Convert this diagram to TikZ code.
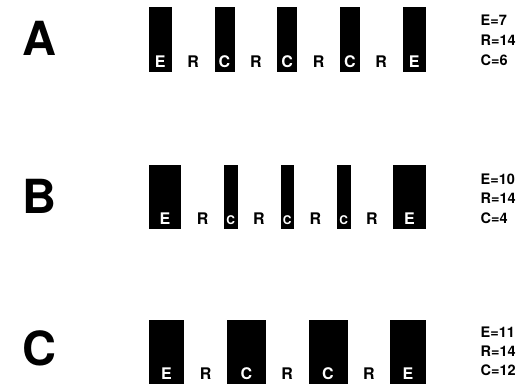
\documentclass[tikz,border=0pt]{standalone}
\usepackage{fontspec}
\setmainfont{TeX Gyre Heros}
\usetikzlibrary{calc}
\tikzset{
  bar/.style={fill=black, draw=none, inner sep=0pt, anchor=north west},
  inl/.style={text=white, font=\bfseries\fontsize{16}{18}\selectfont, inner sep=0pt, anchor=base},
  inlsmall/.style={text=white, font=\bfseries\fontsize{12}{14}\selectfont, inner sep=0pt, anchor=base},
  outl/.style={text=black, font=\bfseries\fontsize{16}{18}\selectfont, inner sep=0pt, anchor=base},
  big/.style={font=\bfseries\fontsize{47}{50}\selectfont, inner sep=0pt, anchor=base west},
  stat/.style={font=\bfseries\fontsize{14.5}{16}\selectfont, inner sep=0pt, anchor=base west},
}
\begin{document}
\begin{tikzpicture}[x=1pt,y=-1pt]
\useasboundingbox (0,0) rectangle (519,387);
% ---------- Row A ----------
\node[big] (lblA) at (22.3,55.7) {A};
\node[bar, minimum width=23.4pt, minimum height=65pt] (aE1) at (148.3,7) {};
\node[bar, minimum width=20pt, minimum height=65pt] (aC1) at (214.3,7) {};
\node[bar, minimum width=20pt, minimum height=65pt] (aC2) at (277,7) {};
\node[bar, minimum width=20pt, minimum height=65pt] (aC3) at (339.7,7) {};
\node[bar, minimum width=23.4pt, minimum height=65pt] (aE2) at (402.3,7) {};
\node[inl] (taE1) at ([yshift=5pt]aE1.south) {E};
\node[inl] (taC1) at ([yshift=5pt]aC1.south) {C};
\node[inl] (taC2) at ([yshift=5pt]aC2.south) {C};
\node[inl] (taC3) at ([yshift=5pt]aC3.south) {C};
\node[inl] (taE2) at ([yshift=5pt]aE2.south) {E};
\node[outl] (taR1) at ($(aE1.south east)!0.5!(aC1.south west)+(0,-5)$) {R};
\node[outl] (taR2) at ($(aC1.south east)!0.5!(aC2.south west)+(0,-5)$) {R};
\node[outl] (taR3) at ($(aC2.south east)!0.5!(aC3.south west)+(0,-5)$) {R};
\node[outl] (taR4) at ($(aC3.south east)!0.5!(aE2.south west)+(0,-5)$) {R};
\node[stat] (saE) at (480.5,25.5) {E=7};
\node[stat] (saR) at (480.5,45.5) {R=14};
\node[stat] (saC) at (480.5,65.5) {C=6};
% ---------- Row B ----------
\node[big] (lblB) at (22.8,213.3) {B};
\node[bar, minimum width=32.7pt, minimum height=64.3pt] (bE1) at (148.3,165) {};
\node[bar, minimum width=13.6pt, minimum height=64.3pt] (bC1) at (223.7,165) {};
\node[bar, minimum width=13.6pt, minimum height=64.3pt] (bC2) at (280.3,165) {};
\node[bar, minimum width=13.6pt, minimum height=64.3pt] (bC3) at (336.7,165) {};
\node[bar, minimum width=32.7pt, minimum height=64.3pt] (bE2) at (393,165) {};
\node[inl] (tbE1) at ([yshift=5pt]bE1.south) {E};
\node[inlsmall] (tbC1) at ([yshift=5.5pt]bC1.south) {C};
\node[inlsmall] (tbC2) at ([yshift=5.5pt]bC2.south) {C};
\node[inlsmall] (tbC3) at ([yshift=5.5pt]bC3.south) {C};
\node[inl] (tbE2) at ([yshift=5pt]bE2.south) {E};
\node[outl] (tbR1) at ($(bE1.south east)!0.5!(bC1.south west)+(0,-5)$) {R};
\node[outl] (tbR2) at ($(bC1.south east)!0.5!(bC2.south west)+(0,-5)$) {R};
\node[outl] (tbR3) at ($(bC2.south east)!0.5!(bC3.south west)+(0,-5)$) {R};
\node[outl] (tbR4) at ($(bC3.south east)!0.5!(bE2.south west)+(0,-5)$) {R};
\node[stat] (sbE) at (480.5,184.3) {E=10};
\node[stat] (sbR) at (480.5,204) {R=14};
\node[stat] (sbC) at (480.5,223.5) {C=4};
% ---------- Row C ----------
\node[big] (lblC) at (22.3,365.7) {C};
\node[bar, minimum width=35.7pt, minimum height=64.7pt] (cE1) at (148.3,319.3) {};
\node[bar, minimum width=39pt, minimum height=64.7pt] (cC1) at (226.7,319.3) {};
\node[bar, minimum width=39pt, minimum height=64.7pt] (cC2) at (308.3,319.3) {};
\node[bar, minimum width=35.7pt, minimum height=64.7pt] (cE2) at (390,319.3) {};
\node[inl] (tcE1) at ([yshift=5pt]cE1.south) {E};
\node[inl] (tcC1) at ([yshift=5pt]cC1.south) {C};
\node[inl] (tcC2) at ([yshift=5pt]cC2.south) {C};
\node[inl] (tcE2) at ([yshift=5pt]cE2.south) {E};
\node[outl] (tcR1) at ($(cE1.south east)!0.5!(cC1.south west)+(0,-5)$) {R};
\node[outl] (tcR2) at ($(cC1.south east)!0.5!(cC2.south west)+(0,-5)$) {R};
\node[outl] (tcR3) at ($(cC2.south east)!0.5!(cE2.south west)+(0,-5)$) {R};
\node[stat] (scE) at (480.5,337.3) {E=11};
\node[stat] (scR) at (480.5,356.7) {R=14};
\node[stat] (scC) at (480.5,375.5) {C=12};
\end{tikzpicture}
\end{document}
